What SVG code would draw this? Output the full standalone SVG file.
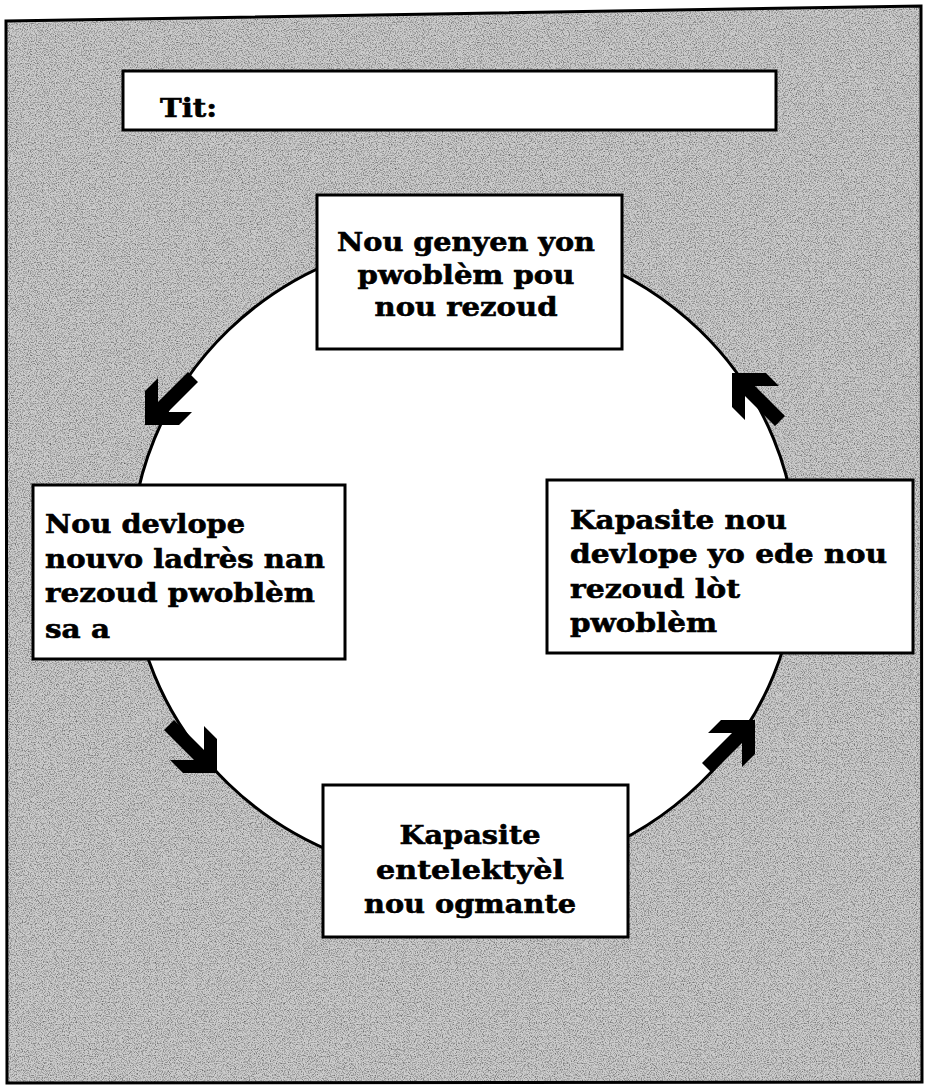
<svg xmlns="http://www.w3.org/2000/svg" width="926" height="1088" viewBox="0 0 926 1088">
<style>
.box{fill:#fff;stroke:#000;stroke-width:3}
.t{font-family:"DejaVu Serif","Liberation Serif",serif;font-weight:bold;font-size:26px;fill:#000;stroke:#000;stroke-width:0.6}
.c{text-anchor:middle}
.arrow{fill:#000}
</style>
<defs>
<filter id="grain" x="0" y="0" width="100%" height="100%">
<feTurbulence type="fractalNoise" baseFrequency="0.85" numOctaves="2" seed="7" result="n"/>
<feColorMatrix in="n" type="matrix" values="0 0 0 0 0  0 0 0 0 0  0 0 0 0 0  1.2 0 0 0 -0.52"/>
<feComposite in2="SourceGraphic" operator="in"/>
</filter>
<clipPath id="page"><polygon points="6,21 921,6 922,1082 7,1083"/></clipPath>
</defs>
<rect width="926" height="1088" fill="#fff"/>
<g id="background">
<polygon points="6,21 921,6 922,1082 7,1083" fill="#cdcdcd"/>
<rect x="0" y="0" width="926" height="1088" fill="#000" filter="url(#grain)" clip-path="url(#page)"/>
<polygon points="6,21 921,6 922,1082 7,1083" fill="none" stroke="#000" stroke-width="3"/>
</g>
<g id="connectors">
<ellipse cx="464" cy="557" rx="333" ry="321" fill="#fff" stroke="#000" stroke-width="3"/>
<polygon class="arrow" points="145,425 145,391 158,378 158,402 188,372 198,382 168,412 192,412 179,425"/>
<polygon class="arrow" points="732,373 732,407 745,420 745,396 775,426 785,416 755,386 779,386 766,373"/>
<polygon class="arrow" points="217,773 217,739 204,726 204,750 174,720 164,730 194,760 170,760 183,773"/>
<polygon class="arrow" points="755,720 755,754 742,767 742,743 712,773 702,763 732,733 708,733 721,720"/>
</g>
<g id="title">
<rect class="box" x="123" y="71" width="653" height="59" stroke-width="4"/>
<text class="t" x="160" y="117" font-size="29" textLength="57" lengthAdjust="spacingAndGlyphs">Tit:</text>
</g>
<g id="node-top">
<rect class="box" x="317" y="195" width="305" height="154"/>
<text class="t c" x="466" y="251" textLength="258" lengthAdjust="spacingAndGlyphs">Nou genyen yon</text>
<text class="t c" x="466" y="284" textLength="217" lengthAdjust="spacingAndGlyphs">pwoblèm pou</text>
<text class="t c" x="466" y="316" textLength="183" lengthAdjust="spacingAndGlyphs">nou rezoud</text>
</g>
<g id="node-left">
<rect class="box" x="33" y="485" width="312" height="174"/>
<text class="t" x="45" y="533" textLength="200" lengthAdjust="spacingAndGlyphs">Nou devlope</text>
<text class="t" x="45" y="568" textLength="280" lengthAdjust="spacingAndGlyphs">nouvo ladrès nan</text>
<text class="t" x="45" y="602" textLength="270" lengthAdjust="spacingAndGlyphs">rezoud pwoblèm</text>
<text class="t" x="45" y="638" textLength="65" lengthAdjust="spacingAndGlyphs">sa a</text>
</g>
<g id="node-right">
<rect class="box" x="547" y="480" width="366" height="173"/>
<text class="t" x="570" y="529" textLength="217" lengthAdjust="spacingAndGlyphs">Kapasite nou</text>
<text class="t" x="570" y="563" textLength="317" lengthAdjust="spacingAndGlyphs">devlope yo ede nou</text>
<text class="t" x="570" y="598" textLength="170" lengthAdjust="spacingAndGlyphs">rezoud lòt</text>
<text class="t" x="570" y="632" textLength="147" lengthAdjust="spacingAndGlyphs">pwoblèm</text>
</g>
<g id="node-bottom">
<rect class="box" x="323" y="785" width="305" height="152"/>
<text class="t c" x="470" y="844" textLength="141" lengthAdjust="spacingAndGlyphs">Kapasite</text>
<text class="t c" x="470" y="879" textLength="188" lengthAdjust="spacingAndGlyphs">entelektyèl</text>
<text class="t c" x="470" y="913" textLength="212" lengthAdjust="spacingAndGlyphs">nou ogmante</text>
</g>
</svg>
